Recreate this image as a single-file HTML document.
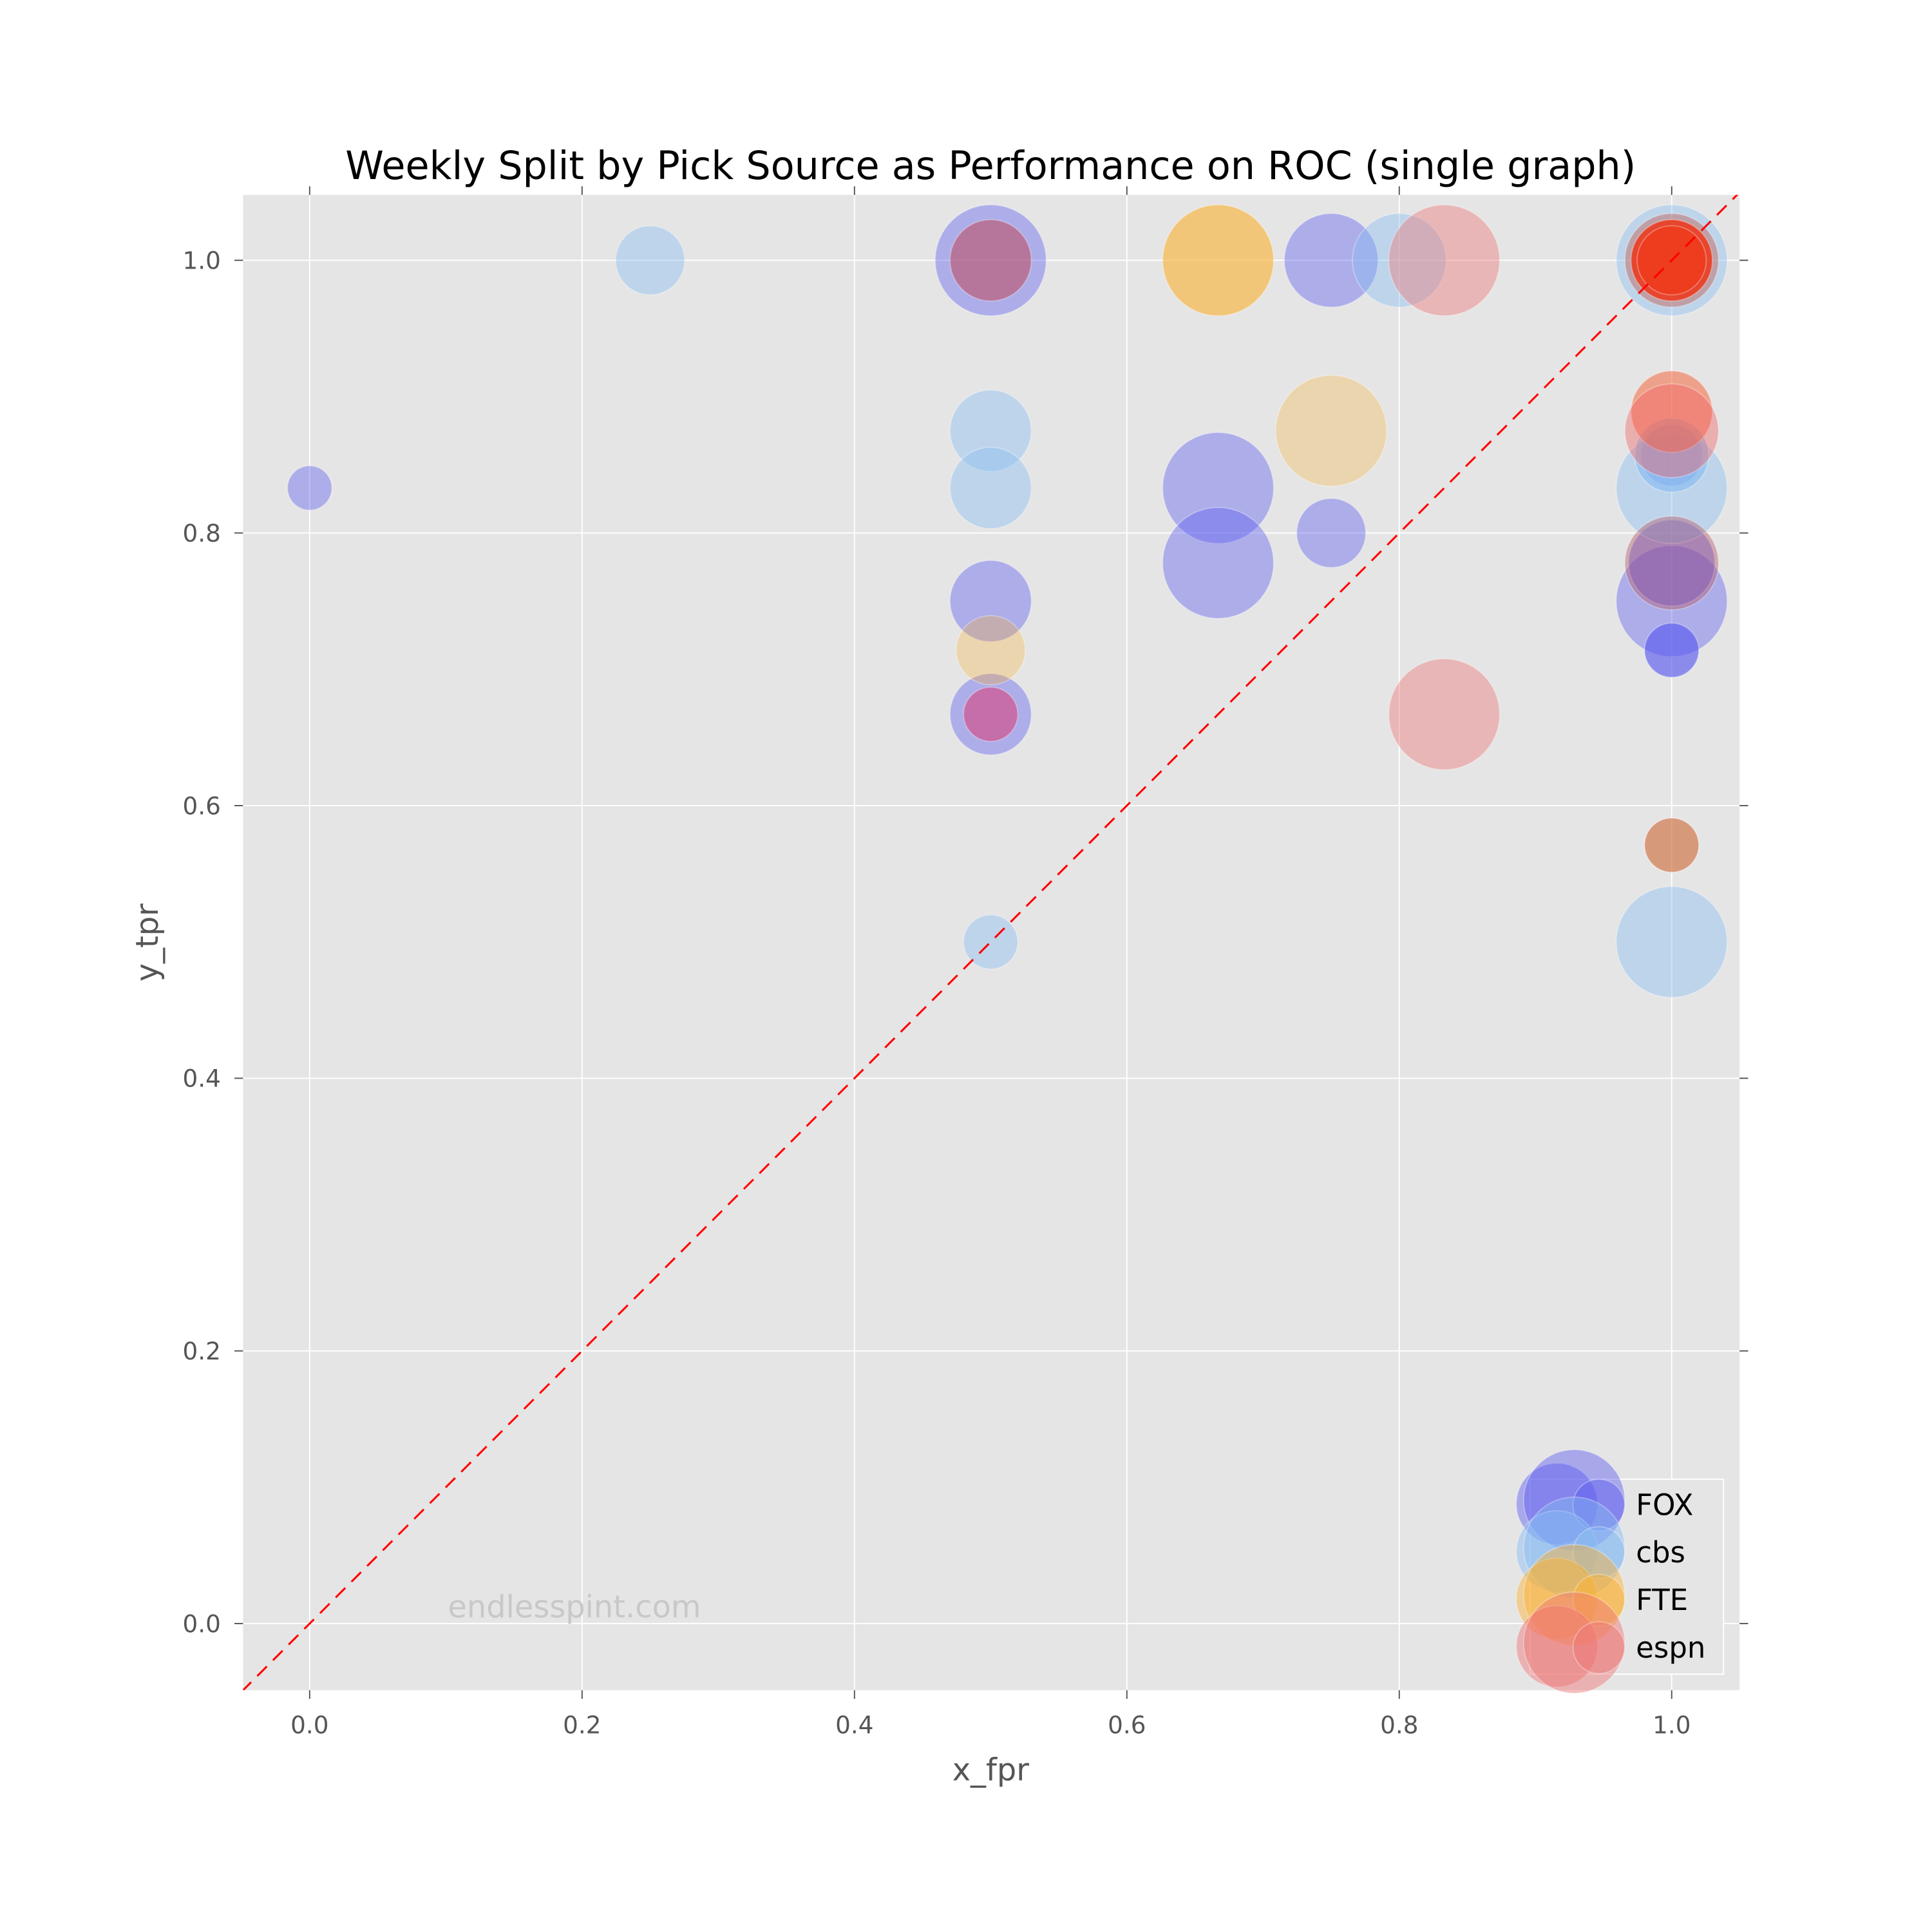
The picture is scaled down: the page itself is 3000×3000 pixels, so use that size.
<!DOCTYPE html>
<html><head><meta charset="utf-8">
<style>html,body{margin:0;padding:0;background:#fff}svg{display:block}</style></head>
<body>
<svg id="chart" width="3000" height="3000" viewBox="0 0 1566 1566" xmlns="http://www.w3.org/2000/svg" font-family="'DejaVu Sans','Liberation Sans',sans-serif">
<defs><clipPath id="pc"><rect x="197" y="158" width="1213" height="1212"/></clipPath></defs>
<rect x="197" y="158" width="1213" height="1212" fill="#e5e5e5"/>
<g id="grid"></g>
<g id="marks" clip-path="url(#pc)"></g>
<line clip-path="url(#pc)" id="diag" stroke="#ff0000" stroke-width="1.6" stroke-dasharray="11,7"/>
<g id="ticks"></g>
<text x="363" y="1311" font-size="25" fill="#c8c8c8">endlesspint.com</text>
<text x="803" y="145" font-size="31.5" text-anchor="middle" fill="#000">Weekly Split by Pick Source as Performance on ROC (single graph)</text>
<text x="803" y="1443" font-size="25" text-anchor="middle" fill="#555">x_fpr</text>
<text transform="translate(128,764) rotate(-90)" font-size="25" text-anchor="middle" fill="#555">y_tpr</text>
<g id="legend">
<rect x="1240" y="1199" width="157" height="158" fill="#e5e5e5" stroke="#fff" stroke-width="1"/>
</g>
</svg>
<script>
const xTicks=[0,0.2,0.4,0.6,0.8,1.0];
const yTicks=[0,0.2,0.4,0.6,0.8,1.0];
const xTickLabels=["0.0","0.2","0.4","0.6","0.8","1.0"];
const yTickLabels=["0.0","0.2","0.4","0.6","0.8","1.0"];
const seriesNames=["FOX","cbs","FTE","espn"];
const seriesColors=["#5a5af0","#84bbf2","#fab02f","#ed7070"];
const foxX=[0,0.5,0.5,0.5,0.667,0.667,0.75,0.75,1,1,1,1];
const foxY=[0.833,1.0,0.75,0.667,0.833,0.778,1.0,0.8,0.75,0.714,0.778,0.857];
const foxR=[18,45,33,33,45,45,38,28,45,22,35,25];
const foxA=[.4,.4,.4,.4,.4,.4,.4,.4,.4,.65,.45,.4];
const cbsX=[0.25,0.5,0.5,0.5,0.8,1,1,1,1];
const cbsY=[1.0,0.875,0.833,0.5,1.0,1.0,0.833,0.5,0.857];
const cbsR=[28,33,33,22,38,45,45,45,30];
const cbsA=[.4,.4,.4,.4,.4,.4,.4,.4,.6];
const fteX=[0.667,0.75,0.5,1];
const fteY=[1.0,0.875,0.714,0.571];
const fteR=[45,45,28,22];
const fteA=[.6,.3,.3,.35];
const espnX=[0.5,0.5,0.833,0.833,1,1,1,1,1,1,1];
const espnY=[1.0,0.667,1.0,0.667,1.0,1.0,1.0,0.889,0.875,0.778,0.571];
const espnR=[33,22,45,45,38,33,28,33,38,38,22];
const espnA=[.5,.5,.4,.4,.4,.8,.7,.55,.4,.4,.5];
const espnC=["#c04050","#e0306a","#ed7070","#ed7070","#c05040","#f03010","#f03818","#f56a40","#f06060","#b05060","#c06050"];
const X0=251,X1=1355,Y0=1316,Y1=211;
function sx(v){return X0+(X1-X0)*v;}
function sy(v){return Y0+(Y1-Y0)*v;}
const NS="http://www.w3.org/2000/svg";
function mk(tag,attrs,parent){const e=document.createElementNS(NS,tag);for(const k in attrs)e.setAttribute(k,attrs[k]);parent.appendChild(e);return e;}
const grid=document.getElementById('grid'),ticks=document.getElementById('ticks');
xTicks.forEach((v,i)=>{
  const g=mk('line',{x1:sx(v),x2:sx(v),y1:158,y2:1370,stroke:'#fff','stroke-width':1},grid);
  
  
  [[1370,1377],[151,158]].forEach(p=>{const t=mk('line',{x1:sx(v),x2:sx(v),y1:p[0],y2:p[1],stroke:'#555','stroke-width':1},ticks);
  
  });
  const l=mk('text',{x:sx(v),y:1405,'font-size':19.5,'text-anchor':'middle',fill:'#555'},ticks);l.textContent=xTickLabels[i];
  
  
});
yTicks.forEach((v,i)=>{
  const g=mk('line',{x1:197,x2:1410,y1:sy(v),y2:sy(v),stroke:'#fff','stroke-width':1},grid);
  
  
  [[190,197],[1410,1417]].forEach(p=>{const t=mk('line',{x1:p[0],x2:p[1],y1:sy(v),y2:sy(v),stroke:'#555','stroke-width':1},ticks);
  
  });
  const l=mk('text',{x:179,y:sy(v)+7,'font-size':19.5,'text-anchor':'end',fill:'#555'},ticks);l.textContent=yTickLabels[i];
  
  
});
const d=document.getElementById('diag');
d.setAttribute('x1',sx(-0.05));d.setAttribute('y1',sy(-0.05));d.setAttribute('x2',sx(1.05));d.setAttribute('y2',sy(1.05));
const marks=document.getElementById('marks');
const all=[[foxX,foxY,foxR,foxA,null],[cbsX,cbsY,cbsR,cbsA,null],[fteX,fteY,fteR,fteA,null],[espnX,espnY,espnR,espnA,espnC]];
all.forEach((s,si)=>{
  s[0].forEach((x,i)=>{
    const col=s[4]?s[4][i]:seriesColors[si];
    const c=mk('circle',{cx:sx(x),cy:sy(s[1][i]),r:s[2][i],fill:col,'fill-opacity':s[3][i],stroke:'#fff','stroke-opacity':0.3,'stroke-width':1},marks);
    
    
  });
});
const leg=document.getElementById('legend');
seriesNames.forEach((n,i)=>{
  const cy=1220+i*38.5;
  [[1262,cy-1,33],[1276,cy-4,41],[1296,cy,21]].forEach(p=>{
    const c=mk('circle',{cx:p[0],cy:p[1],r:p[2],fill:seriesColors[i],'fill-opacity':0.45,stroke:'#fff','stroke-opacity':0.3},leg);
    
    
  });
  const t=mk('text',{x:1326,y:cy+8,'font-size':23.5,fill:'#000'},leg);t.textContent=n;
  
  
});
</script>
</body></html>
